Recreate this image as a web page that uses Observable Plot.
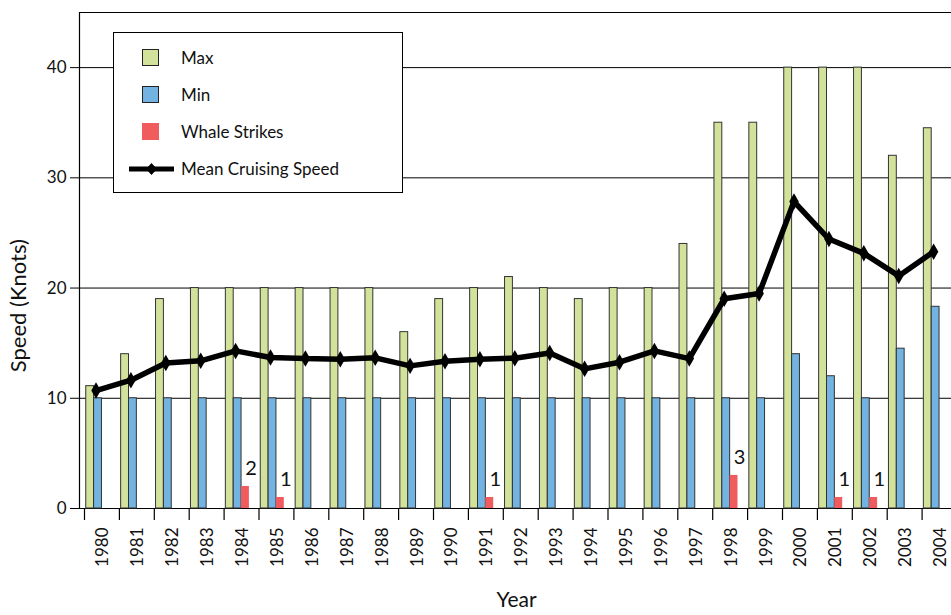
<!DOCTYPE html>
<html>
<head>
<meta charset="utf-8">
<script src="https://cdn.jsdelivr.net/npm/d3@7"></script>
<script src="https://cdn.jsdelivr.net/npm/@observablehq/plot@0.6"></script>
<style>
  body { margin: 0; background: #fff; font-family: Lato, "Open Sans", sans-serif; font-weight: 400; }
  #wrap { position: relative; width: 951px; height: 615px; }
  #legend { position: absolute; left: 113px; top: 32px; width: 288px; height: 159px;
    border: 1.5px solid #000; background: #fff; font-size: 17px; color: #111; }
  .item { position: absolute; left: 0; height: 20px; line-height: 20px; }
  .sw { position: absolute; width: 17px; height: 17px; box-sizing: border-box; }
  .lbl { position: absolute; left: 67px; white-space: nowrap; }
</style>
</head>
<body>
<div id="wrap"></div>
<script>
const years = [1980,1981,1982,1983,1984,1985,1986,1987,1988,1989,1990,1991,1992,1993,1994,1995,1996,1997,1998,1999,2000,2001,2002,2003,2004];
const maxSpeed = [11.1,14,19,20,20,20,20,20,20,16,19,20,21,20,19,20,20,24,35,35,40,40,40,32,34.5];
const minSpeed = [10,10,10,10,10,10,10,10,10,10,10,10,10,10,10,10,10,10,10,10,14,12,10,14.5,18.3];
const meanSpeed = [10.7,11.64,13.2,13.4,14.3,13.7,13.6,13.55,13.67,12.94,13.36,13.55,13.64,14.1,12.67,13.27,14.3,13.6,19.03,19.5,27.85,24.45,23.15,21.1,23.3];
const strikeYears = [1984,1985,1991,1998,2001,2002];
const strikeCounts = [2,1,1,3,1,1];
const yTicks = [0,10,20,30,40];
const gridLines = [10,20,30,40,45];

const colors = {max: "#d3e29b", min: "#72b3e2", strike: "#f05b5e", mean: "#000"};

const rows = years.map((y, i) => ({year: y, max: maxSpeed[i], min: minSpeed[i], mean: meanSpeed[i]}));
const strikes = strikeYears.map((y, i) => ({year: y, n: strikeCounts[i]}));
const tickYears = years.concat([years[years.length - 1] + 1]);

const chart = Plot.plot({
  width: 951,
  height: 615,
  marginLeft: 79,
  marginRight: 0,
  marginTop: 12,
  marginBottom: 107,
  style: {fontFamily: "Lato, 'Open Sans', sans-serif", fontWeight: 400, color: "#111", background: "#fff"},
  x: {type: "linear", domain: [1980, 2005], range: [84, 956.5], label: null},
  y: {domain: [0, 45], label: null},
  marks: [
    Plot.ruleY(gridLines, {stroke: "#000", strokeWidth: 1}),
    Plot.frame({anchor: "left", stroke: "#000", strokeWidth: 1.2}),
    Plot.frame({anchor: "bottom", stroke: "#000", strokeWidth: 1.2}),
    Plot.axisY({ticks: yTicks, tickSize: 9, tickPadding: 4, fontSize: 17, label: null, stroke: "#000"}),
    Plot.axisX({ticks: tickYears, tickSize: 12, tickFormat: () => "", label: null, stroke: "#000", strokeWidth: 1.2}),
    Plot.text(years, {x: d => d + 0.5, frameAnchor: "bottom", dy: 19, dx: 1, rotate: -90, textAnchor: "end", lineAnchor: "middle", text: d => String(d), fontSize: 17, fill: "#111"}),
    Plot.rectY(rows, {x1: d => d.year + 0.05, x2: d => d.year + 0.275, y: "max", fill: colors.max, stroke: "#333", strokeWidth: 1}),
    Plot.rectY(rows, {x1: d => d.year + 0.275, x2: d => d.year + 0.5, y: "min", fill: colors.min, stroke: "#333", strokeWidth: 1}),
    Plot.rectY(strikes, {x1: d => d.year + 0.5, x2: d => d.year + 0.725, y: "n", fill: colors.strike}),
    Plot.text(strikes, {x: d => d.year + 0.77, y: "n", text: d => String(d.n), lineAnchor: "bottom", dy: -11, fontSize: 20, fill: "#111"}),
    Plot.line(rows, {x: d => d.year + 0.33, y: "mean", stroke: colors.mean, strokeWidth: 5.5, strokeLinejoin: "miter"}),
    Plot.dot(rows, {x: d => d.year + 0.33, y: "mean", symbol: "diamond", r: 5, fill: colors.mean}),
    Plot.text(["Speed (Knots)"], {frameAnchor: "left", y: () => 18.4, dx: -61, rotate: -90, textAnchor: "middle", lineAnchor: "middle", fontSize: 22, fill: "#111"}),
    Plot.text(["Year"], {frameAnchor: "bottom", x: () => 1992.38, dy: 98, textAnchor: "middle", lineAnchor: "bottom", fontSize: 21, fill: "#111"})
  ]
});

const wrap = document.getElementById("wrap");
wrap.appendChild(chart);

const legend = document.createElement("div");
legend.id = "legend";
const items = [
  {label: "Max", kind: "box", color: colors.max, top: 15},
  {label: "Min", kind: "box", color: colors.min, top: 52},
  {label: "Whale Strikes", kind: "plain", color: colors.strike, top: 89},
  {label: "Mean Cruising Speed", kind: "line", color: colors.mean, top: 126}
];
for (const it of items) {
  const row = document.createElement("div");
  row.className = "item";
  row.style.top = it.top + "px";
  row.style.width = "100%";
  if (it.kind === "line") {
    row.innerHTML = `<svg width="50" height="20" style="position:absolute;left:14px;top:0">
      <line x1="1" y1="10" x2="46" y2="10" stroke="${it.color}" stroke-width="5"/>
      <path d="M23.5,4 L29,10 L23.5,16 L18,10 Z" fill="${it.color}"/></svg>`;
  } else {
    const sw = document.createElement("div");
    sw.className = "sw";
    sw.style.left = "28px";
    sw.style.top = "1px";
    sw.style.background = it.color;
    if (it.kind === "box") sw.style.border = "1.3px solid #222";
    row.appendChild(sw);
  }
  const lbl = document.createElement("div");
  lbl.className = "lbl";
  lbl.textContent = it.label;
  row.appendChild(lbl);
  legend.appendChild(row);
}
wrap.appendChild(legend);
</script>
</body>
</html>
